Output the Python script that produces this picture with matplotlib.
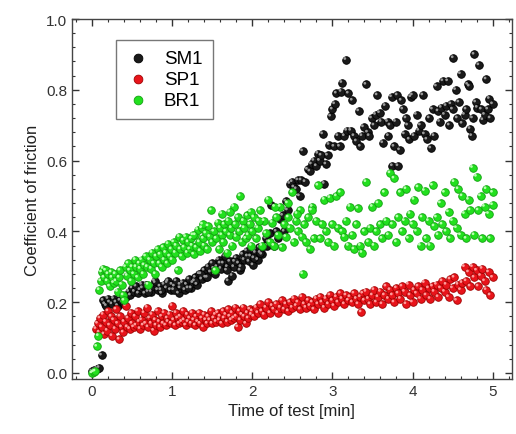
import matplotlib
matplotlib.use("Agg")
import matplotlib.pyplot as plt
from matplotlib.ticker import MultipleLocator
from matplotlib.transforms import offset_copy

plt.rcParams['font.family'] = ['Liberation Sans', 'DejaVu Sans']

# ---- data ----
sm1_t = [0.00,0.03,0.06,0.09,0.12,0.14,0.16,0.18,0.20,0.22,0.25,0.27,0.30,0.32,0.35,0.38,0.40,0.43,0.46,0.48,
         0.50,0.53,0.55,0.58,0.60,0.63,0.66,0.68,0.71,0.74,0.76,0.79,0.82,0.85,0.87,0.90,0.93,0.95,0.98,1.00,
         1.03,1.05,1.08,1.10,1.13,1.16,1.18,1.21,1.24,1.26,1.29,1.31,1.34,1.37,1.40,1.42,1.45,1.48,1.50,1.53,
         1.56,1.58,1.61,1.64,1.66,1.69,1.70,1.72,1.75,1.77,1.80,1.83,1.85,1.88,1.90,1.93,1.96,1.98,2.01,2.04,
         2.07,2.09,2.12,2.15,2.17,2.20,2.22,2.24,2.27,2.30,2.32,2.35,2.38,2.40,2.42,2.44,2.47,2.50,2.52,2.55,
         2.57,2.59,2.61,2.63,2.66,2.69,2.72,2.74,2.77,2.80,2.82,2.84,2.86,2.88,2.90,2.92,2.94,2.96,2.98,3.00,
         3.02,3.03,3.05,3.07,3.09,3.11,3.12,3.15,3.17,3.18,3.20,3.23,3.25,3.27,3.30,3.33,3.35,3.37,3.39,3.42,
         3.44,3.46,3.49,3.52,3.54,3.56,3.59,3.61,3.63,3.66,3.69,3.70,3.72,3.74,3.75,3.77,3.79,3.81,3.82,3.84,
         3.86,3.88,3.90,3.92,3.94,3.96,3.98,4.00,4.02,4.05,4.08,4.10,4.13,4.15,4.18,4.21,4.23,4.25,4.27,4.30,
         4.32,4.34,4.36,4.38,4.40,4.42,4.44,4.46,4.48,4.50,4.51,4.54,4.56,4.58,4.60,4.62,4.65,4.67,4.69,4.71,
         4.72,4.74,4.75,4.77,4.79,4.81,4.83,4.86,4.88,4.90,4.92,4.94,4.96,4.97,5.00,
         0.62,0.70,0.78,0.86,0.94,1.02,1.10,1.20,1.28,1.36,1.44,1.52,1.60,1.68,1.78,1.86,1.94,2.02,2.10,2.18]
sm1_mu = [0.005,0.008,0.012,0.015,0.05,0.205,0.195,0.19,0.21,0.20,0.195,0.21,0.20,0.19,0.205,0.20,0.195,0.215,0.23,0.22,
          0.24,0.23,0.245,0.225,0.235,0.24,0.225,0.25,0.24,0.23,0.245,0.255,0.235,0.245,0.225,0.25,0.24,0.26,0.235,0.25,
          0.245,0.26,0.225,0.24,0.255,0.235,0.25,0.265,0.24,0.255,0.27,0.25,0.28,0.265,0.29,0.27,0.30,0.285,0.31,0.28,
          0.30,0.32,0.295,0.31,0.33,0.30,0.26,0.315,0.275,0.30,0.325,0.31,0.29,0.335,0.32,0.345,0.315,0.33,0.305,0.34,
          0.32,0.355,0.335,0.36,0.38,0.37,0.395,0.475,0.36,0.40,0.38,0.435,0.445,0.40,0.485,0.46,0.535,0.54,0.525,0.52,
          0.545,0.50,0.545,0.627,0.54,0.575,0.57,0.59,0.60,0.585,0.62,0.60,0.615,0.675,0.535,0.59,0.615,0.645,0.725,0.745,
          0.64,0.76,0.79,0.67,0.64,0.795,0.82,0.67,0.885,0.685,0.79,0.685,0.77,0.67,0.655,0.74,0.64,0.67,0.695,0.815,
          0.68,0.67,0.72,0.70,0.73,0.785,0.735,0.71,0.65,0.755,0.71,0.67,0.70,0.78,0.585,0.64,0.71,0.785,0.585,0.63,
          0.77,0.745,0.675,0.72,0.70,0.66,0.78,0.785,0.67,0.73,0.685,0.70,0.785,0.675,0.66,0.72,0.635,0.745,0.67,0.81,
          0.74,0.71,0.75,0.825,0.73,0.755,0.825,0.70,0.76,0.745,0.89,0.80,0.72,0.765,0.845,0.705,0.73,0.745,0.815,0.81,
          0.69,0.67,0.72,0.90,0.765,0.75,0.87,0.745,0.715,0.73,0.83,0.745,0.775,0.72,0.76,
          0.25,0.23,0.26,0.235,0.255,0.235,0.25,0.24,0.26,0.28,0.27,0.295,0.31,0.29,0.315,0.30,0.33,0.325,0.34,0.36]

sp1_t = [0.05,0.07,0.09,0.10,0.12,0.14,0.15,0.17,0.19,0.20,0.22,0.24,0.25,0.27,0.29,0.30,0.32,0.34,0.35,0.37,
         0.39,0.40,0.42,0.44,0.45,0.47,0.49,0.50,0.52,0.54,0.55,0.57,0.59,0.60,0.62,0.64,0.65,0.67,0.69,0.70,
         0.72,0.74,0.75,0.77,0.79,0.80,0.82,0.84,0.85,0.87,0.89,0.90,0.92,0.94,0.95,0.97,0.99,1.00,1.02,1.04,
         1.05,1.07,1.09,1.10,1.12,1.14,1.15,1.17,1.19,1.20,1.22,1.24,1.25,1.27,1.29,1.30,1.32,1.34,1.35,1.37,
         1.39,1.40,1.42,1.44,1.45,1.47,1.49,1.50,1.52,1.54,1.55,1.57,1.59,1.60,1.62,1.64,1.65,1.67,1.69,1.70,
         1.72,1.74,1.75,1.77,1.79,1.80,1.82,1.84,1.85,1.87,1.89,1.90,1.92,1.94,1.95,1.97,1.99,2.00,2.02,2.05,
         2.07,2.10,2.12,2.15,2.17,2.20,2.22,2.25,2.27,2.30,2.32,2.35,2.37,2.40,2.42,2.45,2.47,2.50,2.52,2.55,
         2.57,2.60,2.62,2.65,2.67,2.70,2.72,2.75,2.77,2.80,2.82,2.85,2.87,2.90,2.92,2.95,2.97,3.00,3.02,3.05,
         3.07,3.10,3.12,3.15,3.17,3.20,3.22,3.25,3.27,3.30,3.32,3.35,3.36,3.38,3.40,3.42,3.45,3.47,3.50,3.52,
         3.55,3.57,3.60,3.62,3.65,3.67,3.70,3.72,3.75,3.77,3.80,3.82,3.85,3.87,3.90,3.92,3.95,3.97,4.00,4.02,
         4.05,4.07,4.10,4.12,4.15,4.17,4.20,4.22,4.25,4.27,4.30,4.32,4.35,4.37,4.40,4.42,4.45,4.47,4.50,4.52,
         4.55,4.57,4.60,4.62,4.65,4.67,4.70,4.72,4.75,4.77,4.80,4.82,4.85,4.87,4.90,4.92,4.95,4.97,5.00]
sp1_mu = [0.125,0.14,0.115,0.155,0.13,0.165,0.11,0.145,0.12,0.175,0.135,0.16,0.105,0.15,0.125,0.18,0.14,0.095,0.16,0.13,
          0.115,0.145,0.19,0.13,0.155,0.125,0.17,0.14,0.13,0.16,0.135,0.175,0.145,0.125,0.15,0.135,0.17,0.14,0.185,0.13,
          0.155,0.14,0.165,0.12,0.15,0.135,0.175,0.145,0.13,0.16,0.14,0.17,0.135,0.155,0.145,0.165,0.14,0.19,0.15,0.135,
          0.17,0.155,0.14,0.16,0.145,0.175,0.15,0.135,0.165,0.145,0.155,0.14,0.17,0.15,0.135,0.16,0.145,0.17,0.14,0.155,
          0.13,0.165,0.15,0.14,0.16,0.15,0.175,0.14,0.155,0.165,0.145,0.17,0.15,0.16,0.14,0.175,0.155,0.165,0.145,0.18,
          0.16,0.15,0.17,0.155,0.185,0.16,0.13,0.175,0.15,0.165,0.185,0.16,0.14,0.17,0.155,0.18,0.165,0.175,0.16,0.185,
          0.17,0.195,0.175,0.165,0.185,0.20,0.17,0.19,0.18,0.195,0.17,0.185,0.205,0.18,0.195,0.175,0.20,0.185,0.21,0.19,
          0.20,0.18,0.215,0.195,0.185,0.205,0.19,0.20,0.18,0.21,0.195,0.215,0.20,0.185,0.21,0.195,0.22,0.205,0.19,0.215,
          0.20,0.225,0.21,0.195,0.22,0.205,0.215,0.20,0.225,0.21,0.195,0.215,0.172,0.225,0.205,0.23,0.21,0.195,0.22,0.235,
          0.20,0.215,0.23,0.195,0.22,0.245,0.21,0.235,0.22,0.20,0.24,0.225,0.21,0.245,0.23,0.195,0.25,0.22,0.20,0.235,
          0.225,0.245,0.21,0.235,0.255,0.22,0.24,0.21,0.245,0.23,0.25,0.215,0.24,0.26,0.23,0.25,0.215,0.265,0.24,0.27,
          0.205,0.25,0.235,0.255,0.30,0.26,0.285,0.245,0.30,0.27,0.29,0.245,0.275,0.295,0.26,0.235,0.285,0.22,0.27]

br1_t = [0.00,0.02,0.04,0.06,0.08,0.09,0.11,0.12,0.14,0.15,0.17,0.19,0.20,0.22,0.24,0.25,0.27,0.29,0.30,0.32,
         0.34,0.35,0.37,0.39,0.40,0.42,0.44,0.45,0.47,0.49,0.50,0.52,0.54,0.55,0.57,0.59,0.60,0.62,0.64,0.65,
         0.67,0.69,0.70,0.72,0.74,0.75,0.77,0.79,0.80,0.82,0.84,0.85,0.87,0.89,0.90,0.92,0.94,0.95,0.97,0.99,
         1.00,1.02,1.04,1.05,1.07,1.09,1.10,1.12,1.14,1.15,1.17,1.19,1.20,1.22,1.24,1.25,1.27,1.29,1.30,1.32,
         1.34,1.35,1.37,1.39,1.40,1.42,1.44,1.45,1.47,1.49,1.50,1.52,1.54,1.55,1.57,1.59,1.60,1.62,1.64,1.65,
         1.67,1.69,1.70,1.72,1.74,1.75,1.77,1.79,1.80,1.82,1.84,1.85,1.87,1.89,1.90,1.92,1.94,1.95,1.97,1.99,
         2.00,2.02,2.05,2.07,2.10,2.12,2.15,2.17,2.20,2.22,2.25,2.27,2.30,2.32,2.35,2.37,2.40,2.42,2.45,2.47,
         2.50,2.52,2.55,2.57,2.60,2.62,2.63,2.65,2.67,2.70,2.72,2.75,2.77,2.80,2.82,2.85,2.87,2.90,2.92,2.95,
         2.97,3.00,3.02,3.05,3.07,3.10,3.12,3.15,3.17,3.20,3.22,3.25,3.27,3.30,3.32,3.35,3.37,3.40,3.42,3.45,
         3.47,3.50,3.52,3.55,3.57,3.60,3.62,3.65,3.67,3.70,3.72,3.75,3.77,3.80,3.82,3.85,3.87,3.90,3.92,3.95,
         3.97,4.00,4.02,4.05,4.07,4.10,4.12,4.15,4.17,4.20,4.22,4.25,4.27,4.30,4.32,4.35,4.37,4.40,4.42,4.45,
         4.47,4.50,4.52,4.55,4.57,4.60,4.62,4.65,4.67,4.70,4.72,4.75,4.77,4.80,4.82,4.85,4.87,4.90,4.92,4.95,
         4.97,5.00,5.00,
         1.26,1.38,1.62,1.72,1.98,2.08,2.28,2.44,2.56,2.74]
br1_mu = [0.0,0.003,0.005,0.075,0.105,0.235,0.26,0.285,0.295,0.27,0.29,0.26,0.28,0.245,0.285,0.27,0.255,0.28,0.26,0.23,
          0.27,0.29,0.25,0.22,0.205,0.30,0.275,0.31,0.29,0.26,0.30,0.28,0.32,0.30,0.27,0.31,0.295,0.32,0.28,0.305,
          0.33,0.30,0.25,0.32,0.295,0.34,0.31,0.28,0.33,0.35,0.31,0.335,0.30,0.355,0.32,0.34,0.31,0.365,0.33,0.35,
          0.32,0.37,0.34,0.36,0.29,0.385,0.35,0.33,0.375,0.355,0.385,0.34,0.37,0.35,0.38,0.36,0.335,0.39,0.355,0.405,
          0.37,0.345,0.41,0.38,0.36,0.395,0.35,0.415,0.385,0.46,0.37,0.40,0.29,0.38,0.425,0.35,0.41,0.39,0.37,0.42,
          0.40,0.34,0.43,0.39,0.41,0.36,0.47,0.42,0.385,0.44,0.40,0.50,0.37,0.43,0.41,0.38,0.445,0.39,0.42,0.36,
          0.40,0.44,0.38,0.41,0.46,0.36,0.43,0.395,0.49,0.37,0.425,0.36,0.44,0.39,0.47,0.355,0.42,0.385,0.44,0.41,
          0.51,0.37,0.43,0.40,0.46,0.385,0.28,0.42,0.37,0.44,0.35,0.47,0.38,0.43,0.53,0.38,0.42,0.49,0.40,0.37,
          0.495,0.42,0.36,0.50,0.41,0.51,0.40,0.385,0.43,0.36,0.47,0.39,0.35,0.42,0.465,0.36,0.34,0.40,0.54,0.37,
          0.41,0.47,0.36,0.40,0.48,0.42,0.38,0.51,0.43,0.39,0.565,0.42,0.55,0.37,0.44,0.51,0.40,0.43,0.52,0.38,
          0.45,0.42,0.49,0.40,0.525,0.36,0.44,0.515,0.38,0.43,0.36,0.53,0.415,0.44,0.39,0.48,0.42,0.51,0.40,0.455,
          0.38,0.43,0.54,0.41,0.52,0.39,0.50,0.45,0.38,0.49,0.46,0.58,0.39,0.555,0.46,0.50,0.38,0.47,0.52,0.45,
          0.38,0.51,0.475,
          0.39,0.42,0.45,0.455,0.455,0.43,0.47,0.48,0.45,0.46]

labels = ['SM1', 'SP1', 'BR1']
face_colors = ['#1a1a1a', '#e8141b', '#22e01e']
edge_colors = ['#000000', '#a00000', '#12a010']
hi_colors = ['#9a9a9a', '#ff9a9a', '#b8ffb0']

fig = plt.figure(figsize=(5.16, 4.35), dpi=100)
ax = fig.add_axes([0.1395, 0.1264, 0.8525, 0.8276])

hl = offset_copy(ax.transData, fig=fig, x=-1.2, y=1.2, units='dots')
handles = []
for (t, mu), lab, fc, ec, hc in zip([(sm1_t, sm1_mu), (sp1_t, sp1_mu), (br1_t, br1_mu)],
                                     labels, face_colors, edge_colors, hi_colors):
    h = ax.scatter(t, mu, s=30, c=fc, edgecolors=ec, linewidths=0.6, label=lab, zorder=2)
    ax.scatter(t, mu, s=4, c=hc, edgecolors='none', transform=hl, zorder=2)
    handles.append(h)

ax.set_xlim(-0.25, 5.24)
ax.set_ylim(-0.017, 1.0)
ax.xaxis.set_major_locator(MultipleLocator(1))
ax.xaxis.set_minor_locator(MultipleLocator(0.2))
ax.yaxis.set_major_locator(MultipleLocator(0.2))
ax.yaxis.set_minor_locator(MultipleLocator(0.04))
ax.tick_params(which='both', direction='in', top=True, right=True, labelsize=11, colors='#333333')
ax.tick_params(which='major', length=5, width=1)
ax.tick_params(which='minor', length=2.5, width=0.8)
for sp in ax.spines.values():
    sp.set_color('#444444')
    sp.set_linewidth(1.0)
ax.set_xlabel('Time of test [min]', fontsize=12, color='#222222')
ax.set_ylabel('Coefficient of friction', fontsize=12, color='#222222')

leg = ax.legend(handles=handles, loc='upper left', bbox_to_anchor=(0.1, 0.942),
                borderaxespad=0, fancybox=False, frameon=True, fontsize=13.5,
                handletextpad=0.7, borderpad=0.55, labelspacing=0.2, handlelength=1.3,
                scatterpoints=1, markerscale=1.15)
leg.get_frame().set_edgecolor('#555555')
leg.get_frame().set_linewidth(1.0)

fig.savefig('out.png', dpi=100)
